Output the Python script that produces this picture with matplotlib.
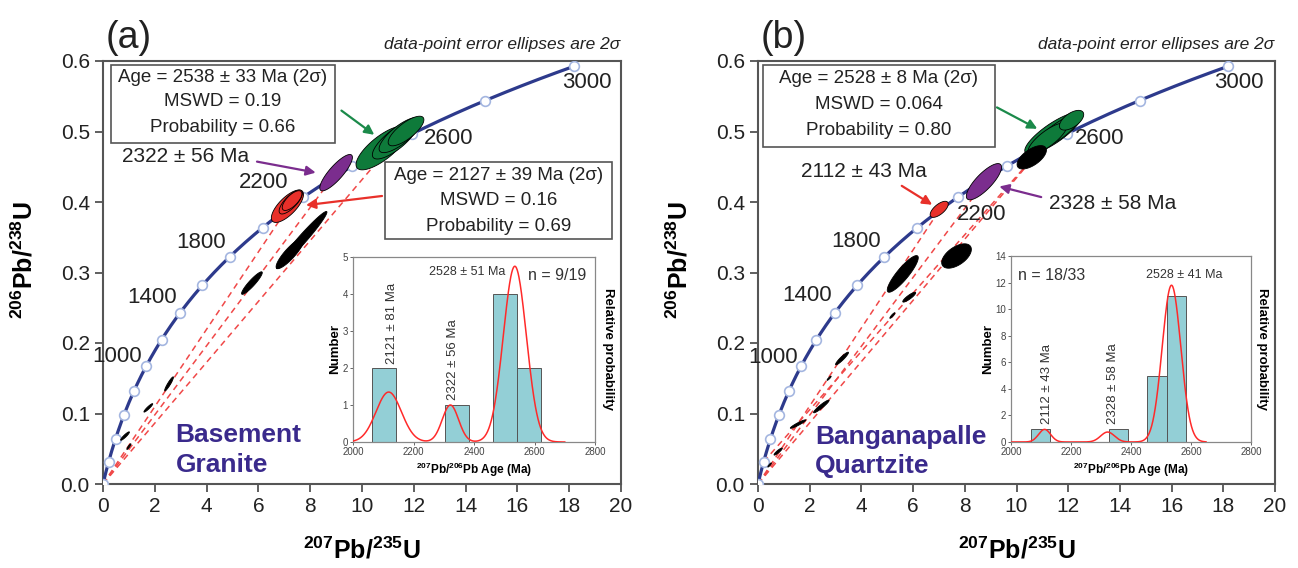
import numpy as np
import matplotlib
matplotlib.use('Agg')
import matplotlib.pyplot as plt
from matplotlib.patches import Polygon, Rectangle
from matplotlib.ticker import FormatStrFormatter

plt.rcParams['font.family'] = ['Liberation Sans', 'DejaVu Sans']
plt.rcParams['mathtext.fontset'] = 'custom'
plt.rcParams['mathtext.rm'] = 'Liberation Sans'
plt.rcParams['mathtext.bf'] = 'Liberation Sans:bold'

# U decay constants (1/Ma)
L238 = 1.55125e-4
L235 = 9.8485e-4

# concordia marker ages (Ma)
marker_ages = [0, 200, 400, 600, 800, 1000, 1200, 1400, 1600, 1800, 2000, 2200, 2400, 2600, 2800, 3000]
label_ages = [1000, 1400, 1800, 2200, 2600, 3000]

# error ellipses: x (207/235), y (206/238), 2s x, 2s y, rho
green_a = [(10.77, 0.4766, 1.0, 0.031, 0.76), (11.27, 0.488, 0.87, 0.027, 0.78),
           (11.47, 0.495, 0.81, 0.025, 0.78), (11.7, 0.5007, 0.69, 0.021, 0.76)]
purple_a = [(9.0, 0.4416, 0.63, 0.0258, 0.84)]
red_a = [(7.12, 0.394, 0.62, 0.023, 0.72), (7.25, 0.4, 0.45, 0.017, 0.75), (7.3, 0.402, 0.38, 0.014, 0.7)]
black_a = [(7.67, 0.346, 0.977, 0.0406, 0.975), (7.22, 0.327, 0.537, 0.0216, 0.87),
           (5.75, 0.285, 0.4, 0.016, 0.92), (2.55, 0.142, 0.17, 0.010, 0.93),
           (1.75, 0.108, 0.17, 0.006, 0.93), (0.85, 0.068, 0.17, 0.006, 0.92), (1.0, 0.053, 0.08, 0.004, 0.9)]
top_a = []

green_b = [(11.42, 0.4974, 1.1, 0.0295, 0.83), (11.6, 0.5, 0.85, 0.024, 0.83),
           (11.2, 0.49, 0.75, 0.022, 0.8), (12.13, 0.516, 0.47, 0.014, 0.58)]
purple_b = [(8.74, 0.4288, 0.68, 0.0257, 0.80)]
red_b = [(7.01, 0.3896, 0.35, 0.0114, 0.66)]
black_b = [(5.6, 0.298, 0.6, 0.026, 0.88), (7.68, 0.3234, 0.574, 0.0173, 0.54),
           (5.85, 0.265, 0.25, 0.007, 0.88), (5.2, 0.239, 0.1, 0.004, 0.9), (3.25, 0.178, 0.25, 0.009, 0.93),
           (2.75, 0.15, 0.08, 0.003, 0.9), (2.45, 0.11, 0.3, 0.009, 0.94), (1.55, 0.085, 0.3, 0.006, 0.94),
           (0.78, 0.046, 0.16, 0.005, 0.9), (0.45, 0.027, 0.07, 0.003, 0.9)]
top_b = [(10.59, 0.4634, 0.568, 0.0166, 0.615)]

# discordia chords (lower intercept age, upper intercept age)
chords_a = [(0, 2127), (0, 2322), (0, 2538)]
chords_b = [(0, 2112), (0, 2328), (0, 2528), (200, 2528)]

# histograms of 207Pb/206Pb ages
bins_a = [2063, 2303, 2463, 2543]
counts_a = [2, 1, 4, 2]
binw_a = 80
bins_b = [2065, 2325, 2453, 2519]
counts_b = [1, 1, 5, 11]
binw_b = 66

# probability curve components: age, height, sigma
peaks_a = [(2118, 1.35, 42), (2322, 1.0, 27), (2535, 4.75, 38)]
peaks_b = [(2112, 0.95, 20), (2322, 0.75, 23), (2535, 11.8, 31)]

box_a1 = ['Age = 2538 ± 33 Ma (2σ)', 'MSWD = 0.19', 'Probability = 0.66']
box_a2 = ['Age = 2127 ± 39 Ma (2σ)', 'MSWD = 0.16', 'Probability = 0.69']
box_b = ['Age = 2528 ± 8 Ma (2σ)', 'MSWD = 0.064', 'Probability = 0.80']

NAVY = '#2D3A8C'
GREEN = '#0E7A3A'
PURPLE = '#7B2D8E'
RED = '#E8302A'
DASH = '#F04848'
TXTBLUE = '#3A2A8C'


def conc(t):
    t = np.asarray(t, dtype=float)
    return np.exp(L235 * t) - 1, np.exp(L238 * t) - 1


def ellipse(ax, e, color):
    x, y, sx, sy, rho = e
    th = np.linspace(0, 2 * np.pi, 90)
    ex = x + sx * np.cos(th)
    ey = y + sy * (rho * np.cos(th) + np.sqrt(1 - rho ** 2) * np.sin(th))
    ax.add_patch(Polygon(np.column_stack([ex, ey]), closed=True, fc=color, ec='black', lw=0.6, zorder=4))


def info_box(ax, x0, x1, y0, y1, lines, ys):
    ax.add_patch(Rectangle((x0, y0), x1 - x0, y1 - y0, fc='white', ec='#555555', lw=1.2, zorder=5))
    for s, yy in zip(lines, ys):
        ax.text((x0 + x1) / 2, yy, s, ha='center', va='center', fontsize=13.5, color='#222222', zorder=6)


def panel(ax, letter, chords, groups, label_pos):
    tt = np.linspace(0, 3000, 400)
    cx, cy = conc(tt)
    for lo, hi in chords:
        (x0, x1), (y0, y1) = conc([lo, hi])
        ax.plot([x0, x1], [y0, y1], color=DASH, lw=1.1, dashes=(4, 3), zorder=2)
    ax.plot(cx, cy, color=NAVY, lw=2.3, zorder=3)
    mx, my = conc(marker_ages)
    ax.plot(mx, my, 'o', ms=7, mfc='white', mec='#A4B6E0', mew=1.2, zorder=3.5)
    for ells, col in groups:
        for e in ells:
            ellipse(ax, e, col)
    for age, (px, py) in zip(label_ages, label_pos):
        ax.text(px, py, str(age), fontsize=16, ha='center', va='center', color='#222222', zorder=6)

    ax.set_xlim(0, 20)
    ax.set_ylim(0, 0.6)
    ax.set_xticks(range(0, 21, 2))
    ax.set_yticks([0.0, 0.1, 0.2, 0.3, 0.4, 0.5, 0.6])
    ax.yaxis.set_major_formatter(FormatStrFormatter('%.1f'))
    ax.tick_params(direction='out', length=6, width=1.2, labelsize=15, colors='#444444', labelcolor='#222222')
    for sp in ax.spines.values():
        sp.set_color('#555555')
        sp.set_linewidth(1.5)
    ax.set_xlabel(r'$^{\mathbf{207}}$Pb/$^{\mathbf{235}}$U', fontsize=18, fontweight='bold')
    ax.set_ylabel(r'$^{\mathbf{206}}$Pb/$^{\mathbf{238}}$U', fontsize=18, fontweight='bold')
    ax.xaxis.set_label_coords(0.5, -0.125)
    ax.yaxis.set_label_coords(-0.126, 0.53)
    ax.text(0.005, 1.098, letter, transform=ax.transAxes, fontsize=27, va='top', ha='left', color='#222222')
    ax.text(0.998, 1.028, 'data-point error ellipses are 2σ', transform=ax.transAxes, fontsize=12.5,
            style='italic', ha='right', va='baseline', color='#222222')


def arrow(ax, start, end, color):
    ax.annotate('', xy=end, xytext=start,
                arrowprops=dict(arrowstyle='-|>', color=color, lw=1.6, mutation_scale=14), zorder=7)


def inset(ax, bins, counts, w, peaks, xmax_curve, ymax, yticks):
    ax.bar(bins, counts, width=w, align='edge', color='#93CFD6', edgecolor='#555555', lw=0.7, zorder=2)
    xs = np.linspace(2000, xmax_curve, 500)
    ys = np.zeros_like(xs)
    for mu, h, s in peaks:
        ys += h * np.exp(-(xs - mu) ** 2 / (2 * s ** 2))
    ax.plot(xs, ys, color='#FF2A2A', lw=1.1, zorder=3)
    ax.set_xlim(2000, 2800)
    ax.set_ylim(0, ymax)
    ax.set_xticks([2000, 2200, 2400, 2600, 2800])
    ax.set_yticks(yticks)
    ax.tick_params(length=2, width=0.7, labelsize=7, colors='#666666', labelcolor='#444444', pad=1.5)
    for sp in ax.spines.values():
        sp.set_color('#888888')
        sp.set_linewidth(0.9)
    ax.set_ylabel('Number', fontsize=9.5, fontweight='bold', labelpad=1)
    ax.set_xlabel(r'$^{\mathbf{207}}$Pb/$^{\mathbf{206}}$Pb Age (Ma)', fontsize=8.5, fontweight='bold', labelpad=3)


fig = plt.figure(figsize=(12.98, 5.68), dpi=100)
axA = fig.add_axes([103 / 1298, 84 / 568, 518 / 1298, 423 / 568])
axB = fig.add_axes([758 / 1298, 84 / 568, 517 / 1298, 423 / 568])

# ---- panel (a)
panel(axA, '(a)', chords_a, [(black_a, 'black'), (red_a, RED), (purple_a, PURPLE), (green_a, GREEN),
                             (top_a, 'black')],
      [(0.56, 0.181), (1.9, 0.2645), (3.8, 0.342), (6.2, 0.427), (13.35, 0.49), (18.7, 0.569)])
info_box(axA, 0.29, 8.96, 0.484, 0.594, box_a1, [0.576, 0.542, 0.506])
info_box(axA, 10.9, 19.65, 0.347, 0.457, box_a2, [0.438, 0.402, 0.365])
axA.text(3.2, 0.465, '2322 ± 56 Ma', fontsize=15, ha='center', va='center', color='#222222', zorder=6)
arrow(axA, (5.84, 0.458), (8.32, 0.441), PURPLE)
arrow(axA, (9.12, 0.532), (10.56, 0.493), '#1B8A4A')
arrow(axA, (10.88, 0.409), (7.73, 0.395), RED)
axA.text(2.8, 0.0695, 'Basement', fontsize=19, fontweight='bold', color=TXTBLUE, va='center', ha='left')
axA.text(2.8, 0.027, 'Granite', fontsize=19, fontweight='bold', color=TXTBLUE, va='center', ha='left')

# ---- panel (b)
panel(axB, '(b)', chords_b, [(black_b, 'black'), (red_b, RED), (purple_b, PURPLE), (green_b, GREEN),
                             (top_b, 'black')],
      [(0.57, 0.18), (1.9, 0.2667), (3.8, 0.344), (8.65, 0.382), (13.2, 0.49), (18.6, 0.57)])
info_box(axB, 0.21, 9.15, 0.478, 0.594, box_b, [0.575, 0.539, 0.502])
axB.text(4.1, 0.443, '2112 ± 43 Ma', fontsize=15, ha='center', va='center', color='#222222', zorder=6)
axB.text(13.7, 0.398, '2328 ± 58 Ma', fontsize=15, ha='center', va='center', color='#222222', zorder=6)
arrow(axB, (5.47, 0.425), (6.83, 0.394), RED)
arrow(axB, (11.06, 0.406), (9.23, 0.423), PURPLE)
arrow(axB, (9.15, 0.536), (10.9, 0.502), '#1B8A4A')
axB.text(2.2, 0.0667, 'Banganapalle', fontsize=19, fontweight='bold', color=TXTBLUE, va='center', ha='left')
axB.text(2.2, 0.0255, 'Quartzite', fontsize=19, fontweight='bold', color=TXTBLUE, va='center', ha='left')

# ---- insets
insA = fig.add_axes([353 / 1298, 126 / 568, 242 / 1298, 185 / 568])
inset(insA, bins_a, counts_a, binw_a, peaks_a, 2700, 5, [0, 1, 2, 3, 4, 5])
insA.text(2129, 2.12, '2121 ± 81 Ma', rotation=90, ha='center', va='bottom', fontsize=9.5, color='#333333')
insA.text(2332, 1.13, '2322 ± 56 Ma', rotation=90, ha='center', va='bottom', fontsize=9.5, color='#333333')
insA.text(2378, 4.6, '2528 ± 51 Ma', ha='center', va='center', fontsize=9, color='#333333')
insA.text(2676, 4.5, 'n = 9/19', ha='center', va='center', fontsize=11.5, color='#333333')
insA.text(1.03, 0.5, 'Relative probability', transform=insA.transAxes, rotation=270, ha='left', va='center',
          fontsize=9.5, fontweight='bold')

insB = fig.add_axes([1011 / 1298, 126 / 568, 240 / 1298, 186 / 568])
inset(insB, bins_b, counts_b, binw_b, peaks_b, 2650, 14, [0, 2, 4, 6, 8, 10, 12, 14])
insB.text(2120, 1.38, '2112 ± 43 Ma', rotation=90, ha='center', va='bottom', fontsize=9.5, color='#333333')
insB.text(2340, 1.38, '2328 ± 58 Ma', rotation=90, ha='center', va='bottom', fontsize=9.5, color='#333333')
insB.text(2578, 12.57, '2528 ± 41 Ma', ha='center', va='center', fontsize=9, color='#333333')
insB.text(2136, 12.5, 'n = 18/33', ha='center', va='center', fontsize=11.5, color='#333333')
insB.text(1.02, 0.5, 'Relative probability', transform=insB.transAxes, rotation=270, ha='left', va='center',
          fontsize=9.5, fontweight='bold')

fig.savefig('out.png', dpi=100)
